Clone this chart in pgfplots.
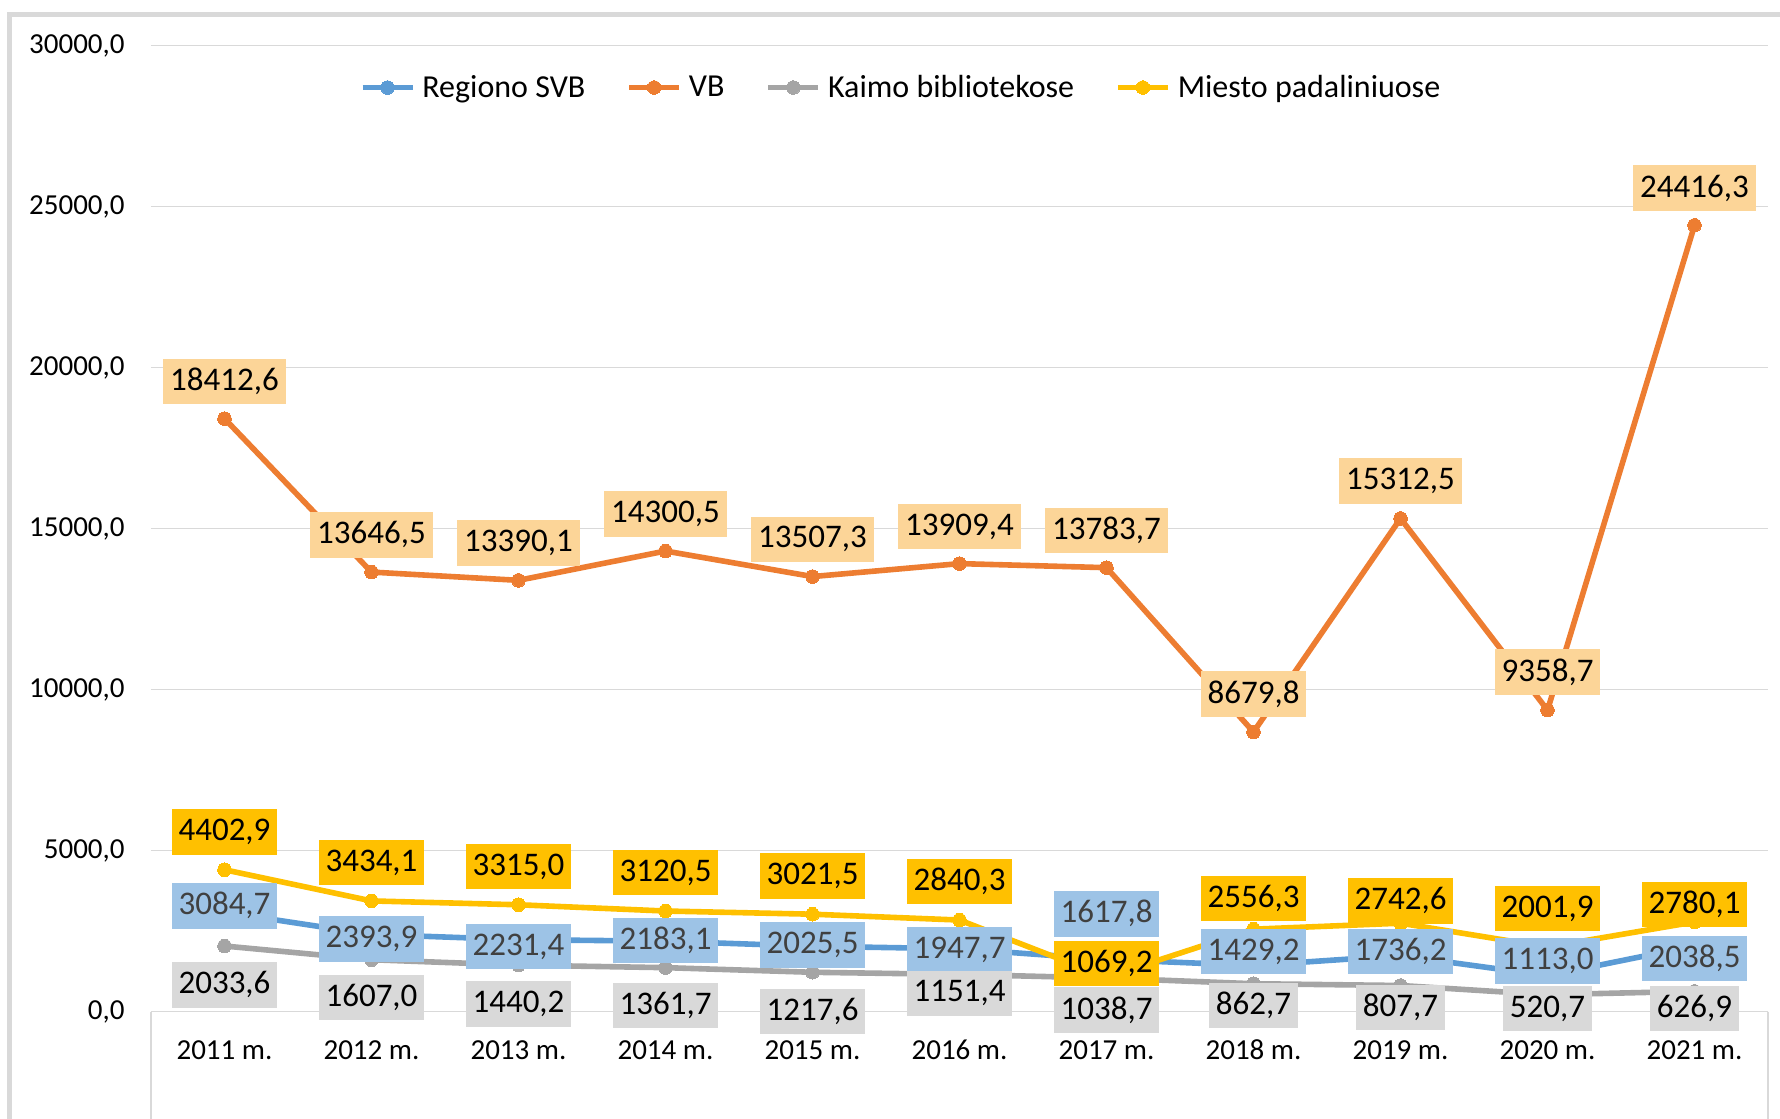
\documentclass[border=0pt]{standalone}
\usepackage{pgfplots}
\pgfplotsset{compat=1.18}
\usepackage{pgfplotstable}
\usepackage{fontspec}
\setmainfont{Carlito}
\definecolor{cblue}{HTML}{5B9BD5}
\definecolor{corange}{HTML}{ED7D31}
\definecolor{cgray}{HTML}{A5A5A5}
\definecolor{cyellow}{HTML}{FFC000}
\definecolor{lblue}{HTML}{9DC3E6}
\definecolor{lorange}{HTML}{FCD598}
\definecolor{lgray}{HTML}{D9D9D9}
\definecolor{gridgray}{HTML}{D9D9D9}
\definecolor{txtgray}{HTML}{404040}

\pgfplotstableread{
x y
0 3084.7
1 2393.9
2 2231.4
3 2183.1
4 2025.5
5 1947.7
6 1617.8
7 1429.2
8 1736.2
9 1113.0
10 2038.5
}\regiono
\pgfplotstableread{
x y
0 18412.6
1 13646.5
2 13390.1
3 14300.5
4 13507.3
5 13909.4
6 13783.7
7 8679.8
8 15312.5
9 9358.7
10 24416.3
}\vb
\pgfplotstableread{
x y
0 2033.6
1 1607.0
2 1440.2
3 1361.7
4 1217.6
5 1151.4
6 1038.7
7 862.7
8 807.7
9 520.7
10 626.9
}\kaimo
\pgfplotstableread{
x y
0 4402.9
1 3434.1
2 3315.0
3 3120.5
4 3021.5
5 2840.3
6 1069.2
7 2556.3
8 2742.6
9 2001.9
10 2780.1
}\miesto
% label centre positions and texts
\pgfplotstableread{
x ly t
0 3282 3084,7
1 2257 2393,9
2 2019 2231,4
3 2205 2183,1
4 2070 2025,5
5 1915 1947,7
6 3033 1617,8
7 1863 1429,2
8 1863 1736,2
9 1563 1113,0
10 1646 2038,5
}\regionolab
\pgfplotstableread{
x ly t
0 19568 18412,6
1 14801 13646,5
2 14545 13390,1
3 15455 14300,5
4 14662 13507,3
5 15064 13909,4
6 14939 13783,7
7 9865 8679,8
8 16480 15312,5
9 10538 9358,7
10 25571 24416,3
}\vblab
\pgfplotstableread{
x ly t
0 828 2033,6
1 435 1607,0
2 238 1440,2
3 186 1361,7
4 0 1217,6
5 560 1151,4
6 50 1038,7
7 186 862,7
8 124 807,7
9 93 520,7
10 93 626,9
}\kaimolab
\pgfplotstableread{
x ly t
0 5580 4402,9
1 4627 3434,1
2 4503 3315,0
3 4316 3120,5
4 4212 3021,5
5 4036 2840,3
6 1500 1069,2
7 3509 2556,3
8 3437 2742,6
9 3199 2001,9
10 3323 2780,1
}\miestolab

\begin{document}
\begin{tikzpicture}
\useasboundingbox (-75.5pt,-53.25pt) rectangle (814.5pt,505.75pt);
\draw[gridgray, line width=2.5pt] (-70.5pt,-70pt) -- (-70.5pt,498.5pt) -- (830pt,498.5pt);
\draw[gridgray, line width=0.75pt] (0pt,0pt) -- (0pt,-60pt);
\draw[gridgray, line width=0.75pt] (808.5pt,0pt) -- (808.5pt,-60pt);
\begin{axis}[
  at={(0pt,0pt)}, anchor=south west,
  scale only axis, width=808.5pt, height=483pt,
  xmin=-0.5, xmax=10.5, ymin=0, ymax=30000,
  clip=false,
  axis line style={draw=none},
  major tick length=0pt,
  xtick={0,...,10},
  xticklabels={2011 m.,2012 m.,2013 m.,2014 m.,2015 m.,2016 m.,2017 m.,2018 m.,2019 m.,2020 m.,2021 m.},
  xticklabel style={font=\fontsize{14.5}{17}\selectfont, anchor=center, inner sep=0pt, yshift=-19.3pt},
  ytick={0,5000,...,30000},
  scaled y ticks=false,
  yticklabel style={font=\fontsize{14.5}{17}\selectfont, inner sep=0pt, xshift=-13pt,
    /pgf/number format/.cd, fixed, fixed zerofill, precision=1, use comma, 1000 sep={}, assume math mode=true},
  ymajorgrids,
  grid style={gridgray, line width=0.75pt},
  legend columns=4,
  legend style={draw=none, fill=none, inner sep=0pt, outer sep=0pt,
    at={(0.1291,0.9565)}, anchor=west,
    font=\fontsize{16}{19}\selectfont,
    nodes={inner sep=0pt},
    /tikz/every odd column/.append style={column sep=3.5pt},
    /tikz/every even column/.append style={column sep=20.5pt}},
  legend image code/.code={\draw[mark repeat=2,mark phase=2,#1] plot coordinates {(0pt,0pt)(12.5pt,0pt)(25pt,0pt)};},
  every axis plot/.append style={line width=2.8pt},
  lab/.style={draw=none, mark=none, forget plot, nodes near coords, point meta=explicit symbolic,
    every node near coord/.style={anchor=center, inner xsep=3.5pt, inner ysep=0pt, minimum height=22.7pt,
      font=\fontsize{16.5}{19}\selectfont, fill=#1}},
]
\addplot[cblue, mark=*, mark size=3.4pt, mark options={solid, line width=0pt}] table[x=x,y=y] {\regiono};
\addlegendentry{Regiono SVB}
\addplot[corange, mark=*, mark size=3.4pt, mark options={solid, line width=0pt}] table[x=x,y=y] {\vb};
\addlegendentry{VB}
\addplot[cgray, mark=*, mark size=3.4pt, mark options={solid, line width=0pt}] table[x=x,y=y] {\kaimo};
\addlegendentry{Kaimo bibliotekose}
\addplot[cyellow, mark=*, mark size=3.4pt, mark options={solid, line width=0pt}] table[x=x,y=y] {\miesto};
\addlegendentry{Miesto padaliniuose}
\addplot[lab=lblue, nodes near coords style={text=txtgray}] table[x=x,y=ly,meta=t] {\regionolab};
\addplot[lab=lorange, nodes near coords style={text=black}] table[x=x,y=ly,meta=t] {\vblab};
\addplot[lab=lgray, nodes near coords style={text=black}] table[x=x,y=ly,meta=t] {\kaimolab};
\addplot[lab=cyellow, nodes near coords style={text=black}] table[x=x,y=ly,meta=t] {\miestolab};
\end{axis}
\end{tikzpicture}
\end{document}
